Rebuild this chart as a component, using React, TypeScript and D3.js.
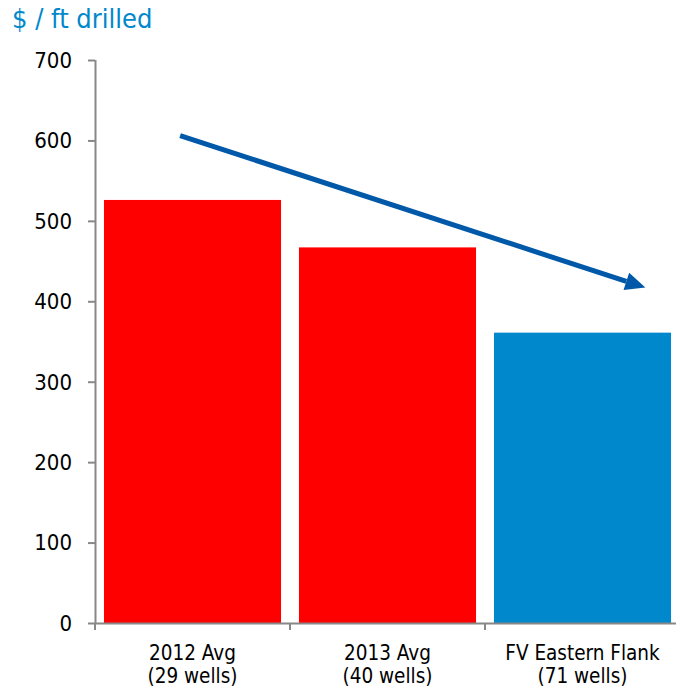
import React from "react";
import * as d3 from "d3";

const categories = ["2012 Avg|(29 wells)", "2013 Avg|(40 wells)", "FV Eastern Flank|(71 wells)"];
const values = [526, 467, 361];
const barColors = ["#FF0000", "#FF0000", "#0088CC"];
const yTicks = [0, 100, 200, 300, 400, 500, 600, 700];
const arrowValues = [606, 417];
const title = "$ / ft drilled";

const W = 676, H = 688;
const FONT = "'DejaVu Sans Condensed', 'Noto Sans', sans-serif";

export default function App() {
  const x = d3.scaleBand<string>().domain(categories).range([95, 680]).paddingInner(0.092).paddingOuter(0.046);
  const y = d3.scaleLinear().domain([0, 700]).range([623, 60]);
  const step = x.step();
  const ax0 = (x(categories[0]) as number) + x.bandwidth() * 0.43;
  const ax1 = (x(categories[2]) as number) + x.bandwidth() * 0.855;
  const ay0 = y(arrowValues[0]);
  const ay1 = y(arrowValues[1]);
  const ang = Math.atan2(ay1 - ay0, ax1 - ax0);
  const headLen = 20, headW = 9;
  const bx = ax1 - headLen * Math.cos(ang), by = ay1 - headLen * Math.sin(ang);
  const px = -Math.sin(ang), py = Math.cos(ang);
  return (
    <svg width={W} height={H} style={{ position: "absolute", left: 0, top: 0, display: "block" }} fontFamily={FONT}>
      <rect width={W} height={H} fill="#fff" />
      <text x={12} y={28} fontSize={27} fill="#0088CC">{title}</text>
      {categories.map((c, i) => (
        <rect key={c} x={x(c)} y={y(values[i])} width={x.bandwidth()} height={y(0) - y(values[i])} fill={barColors[i]} />
      ))}
      <line x1={95.5} x2={95.5} y1={y(700)} y2={y(0)} stroke="#888" strokeWidth={2} />
      <line x1={95} x2={680} y1={y(0) + 0.5} y2={y(0) + 0.5} stroke="#888" strokeWidth={2} />
      {yTicks.map((t) => (
        <g key={t}>
          <line x1={88} x2={95} y1={y(t) + 0.5} y2={y(t) + 0.5} stroke="#888" strokeWidth={2} />
          <text x={72} y={y(t)} dy="0.36em" textAnchor="end" fontSize={22} fill="#000">{t}</text>
        </g>
      ))}
      {[0, 1, 2, 3].map((i) => {
        const xx = 95 + i * step;
        return <line key={i} x1={xx} x2={xx} y1={y(0)} y2={y(0) + 7} stroke="#888" strokeWidth={2} />;
      })}
      {categories.map((c) => {
        const [l1, l2] = c.split("|");
        const cx = (x(c) as number) + x.bandwidth() / 2;
        return (
          <g key={c}>
            <text x={cx} y={660} textAnchor="middle" fontSize={20.5} fill="#000">{l1}</text>
            <text x={cx} y={683} textAnchor="middle" fontSize={20.5} fill="#000">{l2}</text>
          </g>
        );
      })}
      <line x1={ax0} y1={ay0} x2={bx} y2={by} stroke="#0059A8" strokeWidth={5} />
      <path d={`M${ax1},${ay1}L${bx + px * headW},${by + py * headW}L${bx - px * headW},${by - py * headW}Z`} fill="#0059A8" />
    </svg>
  );
}
